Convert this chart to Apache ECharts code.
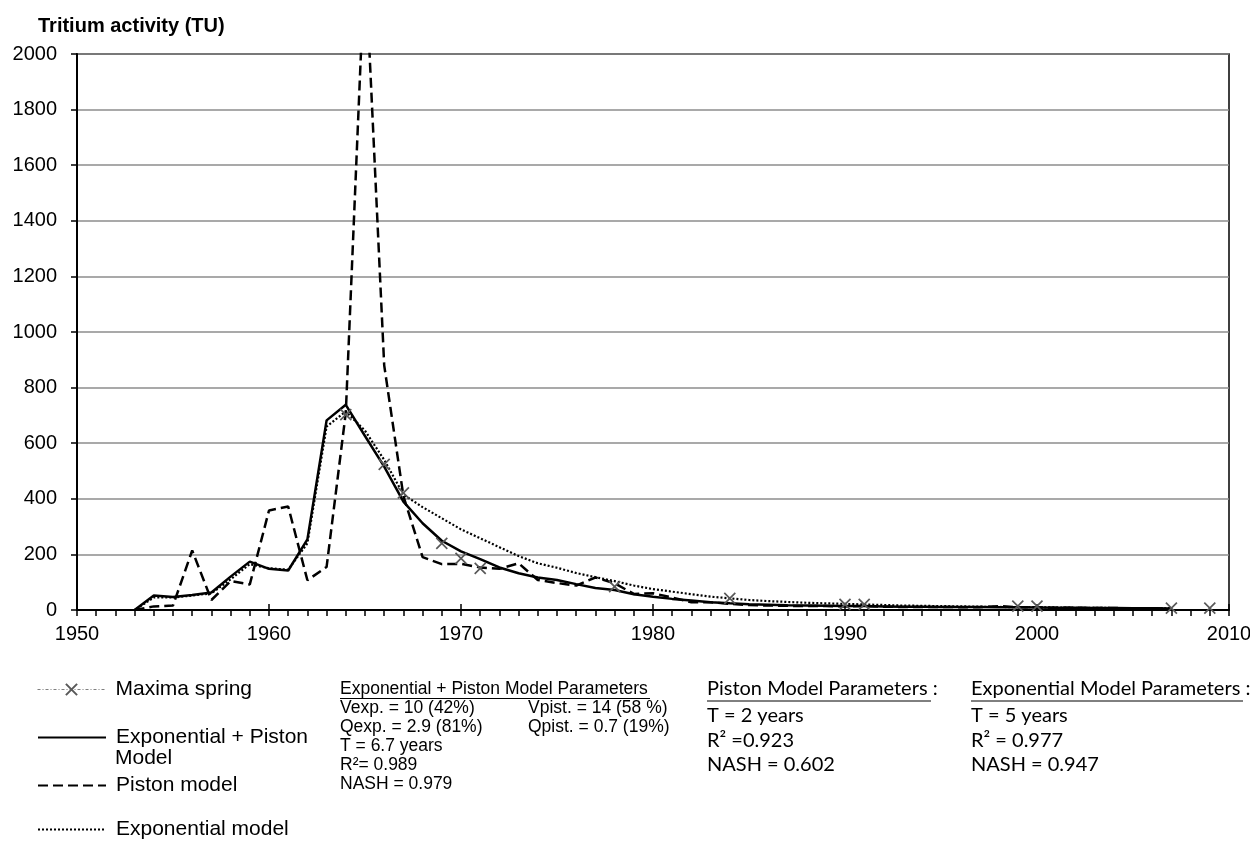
<!DOCTYPE html>
<html>
<head>
<meta charset="utf-8">
<script src="https://cdn.jsdelivr.net/npm/echarts@6/dist/echarts.min.js"></script>
<style>
html,body{margin:0;padding:0;background:#fff;}
#chart{width:1250px;height:841px;}
</style>
</head>
<body>
<div id="chart"></div>
<script>
// ---------------- DATA ----------------
const modelYears = [
  1950,1951,1952,1953,1954,1955,1956,1957,1958,1959,
  1960,1961,1962,1963,1964,1965,1966,1967,1968,1969,
  1970,1971,1972,1973,1974,1975,1976,1977,1978,1979,
  1980,1981,1982,1983,1984,1985,1986,1987,1988,1989,
  1990,1991,1992,1993,1994,1995,1996,1997,1998,1999,
  2000,2001,2002,2003,2004,2005,2006,2007
];
const expPistonModel = [
  null,null,null,0,52,47,54,63,120,174,
  148,142,254,682,738,626,516,390,312,249,
  211,183,153,132,117,108,93,79,72,57,
  48,40,34,28,24,21,19,17,16,15,
  14,14,13,12,12,11,11,11,10,10,
  9,8,8,7,7,6,6,5
];
const pistonModel = [
  null,null,null,0,13,16,214,36,104,92,
  358,372,107,155,710,2350,880,410,190,165,
  166,153,148,168,108,97,88,117,96,58,
  60,45,28,28,22,18,16,15,14,14,
  13,14,12,11,11,11,10,10,14,10,
  9,8,8,7,7,6,6,5
];
const exponentialModel = [
  0,0,0,0,45,45,52,60,110,165,
  150,145,240,660,714,645,540,415,370,330,
  290,258,226,194,168,152,133,118,104,88,
  75,66,57,48,42,36,32,29,26,24,
  22,20,18,16,15,14,13,12,11,10,
  10,9,8,8,7,7,6,6
];
const maximaYears  = [1964,1966,1967,1969,1970,1971,1978,1984,1990,1991,1999,2000,2007,2009];
const maximaSpring = [703,524,421,240,186,150,84,42,20,20,14,14,7,7];

const seriesNames = ['Maxima spring','Exponential + Piston Model','Piston model','Exponential model'];
const legendLabels = ['Maxima spring','Exponential + Piston','Piston model','Exponential model'];
const legendContinuation = 'Model';
const yAxisTitle = 'Tritium activity (TU)';

const combinedTitle = 'Exponential + Piston Model Parameters';
const combinedParamsLeft = ['Vexp. = 10 (42%)','Qexp. = 2.9 (81%)','T = 6.7 years','R\u00b2= 0.989','NASH = 0.979'];
const combinedParamsRight = ['Vpist. = 14 (58 %)','Qpist. = 0.7 (19%)'];
const pistonTitle = 'Piston Model Parameters :';
const pistonParams = ['T = 2 years','R\u00b2 =0.923','NASH = 0.602'];
const expTitle = 'Exponential Model Parameters :';
const expParams = ['T = 5 years','R\u00b2 = 0.977','NASH = 0.947'];

// ---------------- CHART ----------------
const pairs = (xs, ys) => xs.map((x, i) => [x, ys[i]]);
const FONT = 'Liberation Sans, Arial, sans-serif';
const CAL = 'Lato, Carlito, sans-serif';

const chart = echarts.init(document.getElementById('chart'), null, {renderer: 'canvas'});

function legendItem(idx, top, extra) {
  return Object.assign({
    data: [seriesNames[idx]],
    formatter: function () { return legendLabels[idx]; },
    left: 37,
    top: top,
    orient: 'vertical',
    padding: 0,
    itemWidth: 68,
    itemHeight: 14,
    selectedMode: false,
    textStyle: {fontSize: 21, color: '#000', fontFamily: FONT, padding: [0, 0, 0, 5]},
    itemStyle: {opacity: 0}
  }, extra || {});
}

const graphics = [];
function addText(x, y, text, font) {
  graphics.push({type: 'text', silent: true, style: {x: x, y: y, text: text, font: font, fill: '#000', align: 'left', verticalAlign: 'middle'}});
}
function addLine(x1, x2, y) {
  graphics.push({type: 'line', silent: true, shape: {x1: x1, y1: y, x2: x2, y2: y}, style: {stroke: '#000', lineWidth: 1}});
}
const f1 = '17.5px ' + FONT;
const f2 = '20px ' + CAL;
addText(115, 758, legendContinuation, '21px ' + FONT);
addText(340, 689, combinedTitle, f1);
addLine(340, 650, 698.5);
combinedParamsLeft.forEach((t, i) => addText(340, 708.5 + 18.8 * i, t, f1));
combinedParamsRight.forEach((t, i) => addText(528, 708.5 + 18.8 * i, t, f1));
addText(707, 689, pistonTitle, f2);
addLine(707, 931, 701);
pistonParams.forEach((t, i) => addText(707, 716 + 24.5 * i, t, f2));
addText(971, 689, expTitle, f2);
addLine(971, 1243, 701);
expParams.forEach((t, i) => addText(971, 716 + 24.5 * i, t, f2));

const plainNum = v => String(v);

const option = {
  animation: false,
  backgroundColor: '#fff',
  title: {
    text: yAxisTitle, left: 38, top: 16, padding: 0,
    textStyle: {fontSize: 20, fontWeight: 'bold', fontFamily: FONT, color: '#000'}
  },
  grid: {left: 77, right: 21, top: 54, bottom: 231, show: true, borderColor: '#000', borderWidth: 1.5,
         backgroundColor: 'transparent', containLabel: false, outerBoundsMode: 'none'},
  xAxis: [{
    type: 'value', min: 1950, max: 2010, interval: 10,
    axisLine: {lineStyle: {color: '#000', width: 2}},
    axisTick: {length: 6, lineStyle: {color: '#000', width: 1.5}},
    minorTick: {show: true, splitNumber: 10, length: 6, lineStyle: {color: '#000', width: 1.5}},
    splitLine: {show: false},
    axisLabel: {color: '#000', fontSize: 20, fontFamily: FONT, margin: 14, formatter: plainNum}
  }, {
    type: 'value', min: 1950, max: 2010, interval: 10, position: 'bottom',
    axisLine: {show: false},
    axisTick: {inside: true, length: 6, lineStyle: {color: '#000', width: 1.5}},
    axisLabel: {show: false},
    splitLine: {show: false}
  }],
  yAxis: {
    type: 'value', min: 0, max: 2000, interval: 200,
    axisLine: {show: true, lineStyle: {color: '#000', width: 2}},
    axisTick: {show: true, length: 6, lineStyle: {color: '#000', width: 1.5}},
    splitLine: {lineStyle: {color: '#8c8c8c', width: 1.5}},
    axisLabel: {color: '#000', fontSize: 20, fontFamily: FONT, margin: 20, formatter: plainNum}
  },
  legend: [
    legendItem(0, 679, {
      itemStyle: {opacity: 1},
      lineStyle: {color: '#7f7f7f', width: 1, type: [3, 2, 1, 2], opacity: 1}
    }),
    legendItem(1, 727),
    legendItem(2, 775),
    legendItem(3, 819)
  ],
  graphic: graphics,
  series: [
    {
      name: seriesNames[3], type: 'line', data: pairs(modelYears, exponentialModel),
      symbol: 'none', z: 2,
      lineStyle: {color: '#000', width: 2.2, type: [2, 2]}
    },
    {
      name: seriesNames[2], type: 'line', data: pairs(modelYears, pistonModel),
      symbol: 'none', z: 3,
      lineStyle: {color: '#000', width: 2.5, type: [10, 5]}
    },
    {
      name: seriesNames[1], type: 'line', data: pairs(modelYears, expPistonModel),
      symbol: 'none', z: 4,
      lineStyle: {color: '#000', width: 2.5, type: 'solid'}
    },
    {
      name: seriesNames[0], type: 'line', data: pairs(maximaYears, maximaSpring),
      symbol: 'path://M0,0L10,10M10,0L0,10', symbolSize: 11, showAllSymbol: true, z: 5,
      lineStyle: {width: 0, opacity: 0},
      itemStyle: {color: 'rgba(0,0,0,0)', borderColor: '#595959', borderWidth: 1.7}
    }
  ]
};
chart.setOption(option);
</script>
</body>
</html>
